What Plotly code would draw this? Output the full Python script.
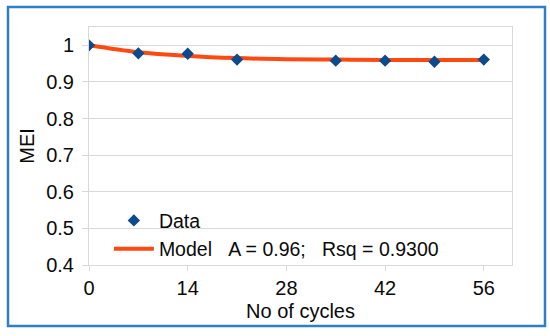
import plotly.graph_objects as go

cycles = [0, 7, 14, 21, 35, 42, 49, 56]
mei = [1.0, 0.978, 0.977, 0.961, 0.958, 0.958, 0.955, 0.961]

model_x = [0, 7, 14, 21, 28, 35, 42, 49, 56]
model_y = [1.0, 0.981, 0.971, 0.965, 0.962, 0.961, 0.960, 0.960, 0.960]

x_ticks = [0, 14, 28, 42, 56]
y_ticks = [0.4, 0.5, 0.6, 0.7, 0.8, 0.9, 1.0]
y_labels = ["0.4", "0.5", "0.6", "0.7", "0.8", "0.9", "1"]

model_name = "Model\u00a0\u00a0\u00a0A = 0.96;\u00a0\u00a0\u00a0Rsq = 0.9300"

FONT = "Liberation Sans, Arial, sans-serif"

fig = go.Figure()
fig.add_trace(go.Scatter(
    x=model_x, y=model_y, mode="lines", name=model_name,
    line=dict(color="#fe4a10", width=4, shape="spline"),
    legendrank=2, legendgroup="m"))
fig.add_trace(go.Scatter(
    x=cycles, y=mei, mode="markers", name="Data",
    marker=dict(symbol="diamond", size=9.5, color="#0b4a8e"),
    legendrank=1, legendgroup="d"))

grid = "#d9d9d9"
fig.update_layout(
    width=550, height=336,
    margin=dict(l=89, r=38, t=27, b=71),
    paper_bgcolor="white", plot_bgcolor="white",
    font=dict(family=FONT, size=20, color="#0a0a0a"),
    showlegend=True,
    legend=dict(x=0.047, y=0.268, xanchor="left", yanchor="top",
                bgcolor="rgba(0,0,0,0)", font=dict(size=19.5),
                tracegroupgap=0, itemwidth=40),
    xaxis=dict(range=[0, 60], tickvals=x_ticks, showgrid=False,
               showline=True, linecolor=grid, linewidth=1, mirror=True,
               ticks="outside", ticklen=5, tickcolor=grid,
               title=dict(text="No of cycles", font=dict(size=20), standoff=5),
               zeroline=False),
    yaxis=dict(range=[0.4, 1.05], tickvals=y_ticks, ticktext=y_labels,
               showgrid=True, gridcolor=grid,
               showline=True, linecolor=grid, linewidth=1, mirror=True,
               ticks="outside", ticklen=6, tickcolor=grid,
               ticklabelstandoff=4,
               title=dict(text="MEI", font=dict(size=20), standoff=6),
               zeroline=False),
    shapes=[dict(type="rect", xref="paper", yref="paper",
                 x0=(8 - 89) / 423, x1=(545 - 89) / 423,
                 y0=(265 - 326) / 238, y1=(265 - 7) / 238,
                 line=dict(color="#2f7fc6", width=2.5), layer="below")],
)

fig.write_html("out.html", config={"displayModeBar": False},
               post_script="document.body.style.margin='0';")
